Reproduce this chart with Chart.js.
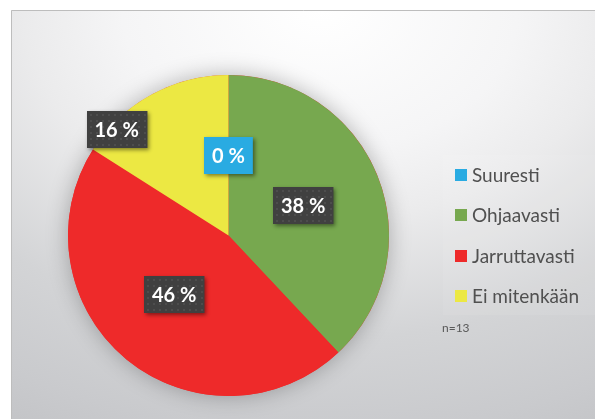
<!DOCTYPE html>
<html>
<head>
<meta charset="utf-8">
<script src="https://cdn.jsdelivr.net/npm/chart.js@4"></script>
<style>
html,body{margin:0;padding:0;background:#fff;}
#wrap{position:relative;width:595px;height:419px;}
</style>
</head>
<body>
<div id="wrap"><canvas id="c" width="595" height="419"></canvas></div>
<script>
const categories = ["Suuresti", "Ohjaavasti", "Jarruttavasti", "Ei mitenkään"];
const percentValues = [0, 38, 46, 16];
const sliceColors = ["#29abe2", "#77a84f", "#ee2a2a", "#ece843"];
const labelBoxColors = ["#29abe2", "#404040", "#404040", "#404040"];
const noteText = "n=13";

const FONT = "Lato, 'Open Sans', 'DejaVu Sans', sans-serif";

const backgroundPlugin = {
  id: "bg",
  beforeDraw(chart) {
    const ctx = chart.ctx;
    const W = chart.width, H = chart.height;
    ctx.save();
    ctx.fillStyle = "#ffffff";
    ctx.fillRect(0, 0, W, H);
    const x0 = 11, y0 = 10;
    ctx.save();
    ctx.beginPath();
    ctx.rect(x0, y0, W - x0, H - y0);
    ctx.clip();
    ctx.translate(320, 10);
    ctx.scale(1.4, 1);
    const g = ctx.createRadialGradient(0, 0, 0, 0, 0, 470);
    g.addColorStop(0, "#ffffff");
    g.addColorStop(0.3, "#f5f5f6");
    g.addColorStop(0.45, "#ebebec");
    g.addColorStop(0.7, "#d3d4d6");
    g.addColorStop(0.9, "#c9cacd");
    g.addColorStop(1, "#c3c4c7");
    ctx.fillStyle = g;
    ctx.fillRect(-400, -50, 800, 600);
    ctx.restore();
    ctx.strokeStyle = "#bdbdbd";
    ctx.lineWidth = 1;
    ctx.beginPath();
    ctx.moveTo(x0 + 0.5, H);
    ctx.lineTo(x0 + 0.5, y0 + 0.5);
    ctx.lineTo(W, y0 + 0.5);
    ctx.stroke();
    // legend panel
    ctx.fillStyle = "rgba(255,255,255,0.07)";
    ctx.fillRect(443, 155, W - 443, 160);
    ctx.restore();
  },
  beforeDatasetsDraw(chart) {
    const arc = chart.getDatasetMeta(0).data.find(a => a);
    if (!arc) return;
    const ctx = chart.ctx;
    ctx.save();
    ctx.shadowColor = "rgba(0,0,0,0.28)";
    ctx.shadowBlur = 22;
    ctx.fillStyle = "#ee2a2a";
    ctx.beginPath();
    ctx.arc(arc.x, arc.y, arc.outerRadius, 0, Math.PI * 2);
    ctx.fill();
    ctx.restore();
  }
};

const labelPlugin = {
  id: "boxLabels",
  afterDatasetsDraw(chart, args, opts) {
    const ctx = chart.ctx;
    const meta = chart.getDatasetMeta(0);
    const ds = chart.data.datasets[0];
    meta.data.forEach((arc, i) => {
      const p = arc.getProps(["x", "y", "startAngle", "endAngle", "outerRadius"], true);
      const adj = (opts.adjust && opts.adjust[i]) || { frac: 0.5, shift: 0 };
      const ang = (p.startAngle + p.endAngle) / 2 + adj.shift * Math.PI / 180;
      const r = p.outerRadius * adj.frac;
      const cx = p.x + Math.cos(ang) * r;
      const cy = p.y + Math.sin(ang) * r;
      const text = ds.data[i] + " %";
      ctx.save();
      ctx.font = "bold 20px " + FONT;
      const tw = ctx.measureText(text).width;
      const bw = tw + 16, bh = 37;
      const bx = Math.round(cx - bw / 2), by = Math.round(cy - bh / 2);
      ctx.shadowColor = "rgba(0,0,0,0.45)";
      ctx.shadowBlur = 4;
      ctx.shadowOffsetX = 2;
      ctx.shadowOffsetY = 2;
      ctx.fillStyle = labelBoxColors[i];
      ctx.fillRect(bx, by, bw, bh);
      ctx.shadowColor = "transparent";
      if (labelBoxColors[i] === "#404040") {
        ctx.fillStyle = "rgba(255,255,255,0.07)";
        for (let yy = by + 3; yy < by + bh - 1; yy += 6) {
          for (let xx = bx + 3; xx < bx + bw - 1; xx += 6) {
            ctx.fillRect(xx, yy, 2, 2);
          }
        }
      }
      ctx.fillStyle = "#ffffff";
      ctx.textAlign = "center";
      ctx.textBaseline = "middle";
      ctx.fillText(text, cx, by + bh / 2 + 1);
      ctx.restore();
    });
  }
};

const legendPlugin = {
  id: "sideLegend",
  afterDraw(chart) {
    const ctx = chart.ctx;
    ctx.save();
    ctx.font = "19px " + FONT;
    ctx.textBaseline = "middle";
    ctx.textAlign = "left";
    const ys = [175, 215, 256, 296];
    chart.data.labels.forEach((lab, i) => {
      ctx.fillStyle = sliceColors[i];
      ctx.fillRect(455, ys[i] - 6, 12, 12);
      ctx.fillStyle = "#505050";
      ctx.fillText(lab, 472, ys[i] + 1);
    });
    ctx.font = "12px " + FONT;
    ctx.fillStyle = "#595959";
    ctx.fillText(noteText, 442, 328);
    ctx.restore();
  }
};

new Chart(document.getElementById("c"), {
  type: "pie",
  data: {
    labels: categories,
    datasets: [{
      data: percentValues,
      backgroundColor: sliceColors,
      borderWidth: 0
    }]
  },
  options: {
    responsive: false,
    animation: false,
    rotation: 0,
    layout: { padding: { left: 68, right: 206, top: 75, bottom: 23 } },
    plugins: {
      legend: { display: false },
      tooltip: { enabled: false },
      boxLabels: {
        adjust: [
          { frac: 0.5, shift: 0 },
          { frac: 0.5, shift: 0 },
          { frac: 0.5, shift: 3 },
          { frac: 0.96, shift: -17.7 }
        ]
      }
    }
  },
  plugins: [backgroundPlugin, labelPlugin, legendPlugin]
});
</script>
</body>
</html>
